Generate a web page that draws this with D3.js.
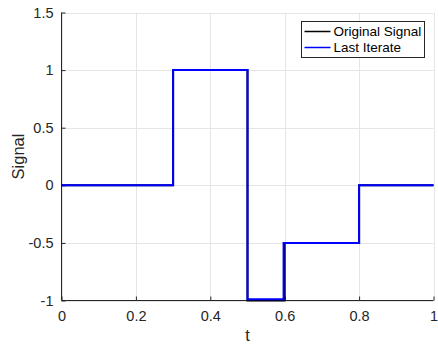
<!DOCTYPE html>
<html>
<head>
<meta charset="utf-8">
<script src="https://cdn.jsdelivr.net/npm/d3@7"></script>
<style>
  body { margin: 0; background: #fff; }
  svg { display: block; font-family: 'Liberation Sans', Arial, sans-serif; }
</style>
</head>
<body>
<div class="chart"></div>
<script>
// step signal: value holds from each breakpoint to the next
let origT = [0, 0.3, 0.5, 0.6, 0.8, 1];
let origV = [0, 1, -1, -0.5, 0, 0];
let iterT = [0, 0.3, 0.5, 0.597, 0.8, 1];
let iterV = [0, 1, -0.99, -0.5, 0, 0];
let xTicks = [0, 0.2, 0.4, 0.6, 0.8, 1];
let yTicks = [-1, -0.5, 0, 0.5, 1, 1.5];
let seriesNames = ['Original Signal', 'Last Iterate'];
let seriesColors = ['#000000', '#0000ff'];

let width = 438, height = 344;
let margin = {left: 61.5, right: 4.5, top: 12.5, bottom: 43.5};

let svg = d3.select('div.chart').append('svg')
  .attr('width', width)
  .attr('height', height);

let x = d3.scaleLinear().domain([0, 1]).range([margin.left, width - margin.right]);
let y = d3.scaleLinear().domain([-1, 1.5]).range([height - margin.bottom, margin.top]);

// grid
let grid = svg.append('g').attr('stroke', '#e5e5e5').attr('stroke-width', 1);
grid.selectAll('.gx').data(xTicks).enter().append('line')
  .attr('x1', d => Math.round(x(d)) + 0.5).attr('x2', d => Math.round(x(d)) + 0.5)
  .attr('y1', y(-1)).attr('y2', y(1.5));
grid.selectAll('.gy').data(yTicks).enter().append('line')
  .attr('y1', d => Math.round(y(d)) + 0.5).attr('y2', d => Math.round(y(d)) + 0.5)
  .attr('x1', x(0)).attr('x2', x(1));

// axes (matlab style: ticks inside, hyphen minus)
let fmt = d => String(d);
let xAxis = svg.append('g')
  .attr('transform', 'translate(0,' + y(-1) + ')')
  .call(d3.axisBottom(x).tickValues(xTicks).tickSize(-4).tickPadding(10).tickFormat(fmt));
let yAxis = svg.append('g')
  .attr('transform', 'translate(' + x(0) + ',0)')
  .call(d3.axisLeft(y).tickValues(yTicks).tickSize(-4).tickPadding(8).tickFormat(fmt));

[xAxis, yAxis].forEach(a => {
  a.selectAll('path, line').attr('stroke', '#262626');
  a.selectAll('text').attr('fill', '#262626').attr('font-size', '14.5px')
    .attr('font-family', "'Liberation Sans', Arial, sans-serif");
  a.select('.domain').attr('d', null);
});
xAxis.append('line').attr('x1', x(0)).attr('x2', x(1)).attr('stroke', '#262626');
yAxis.append('line').attr('y1', y(-1)).attr('y2', y(1.5)).attr('stroke', '#262626');

// labels
svg.append('text').text('t')
  .attr('x', x(0.5)).attr('y', 341)
  .attr('text-anchor', 'middle').attr('font-size', '16.5px').attr('fill', '#262626');
svg.append('text').text('Signal')
  .attr('transform', 'translate(23.5,' + y(0.25) + ') rotate(-90)')
  .attr('text-anchor', 'middle').attr('font-size', '16.5px').attr('fill', '#262626');

// signals
let stepLine = d3.line().x(d => x(d[0])).y(d => y(d[1])).curve(d3.curveStepAfter);
let series = [d3.zip(origT, origV), d3.zip(iterT, iterV)];
svg.selectAll('.sig').data(series).enter().append('path')
  .attr('d', stepLine)
  .attr('fill', 'none')
  .attr('stroke', (d, i) => seriesColors[i])
  .attr('stroke-width', 2);

// legend
let lg = svg.append('g').attr('transform', 'translate(301.5,21.5)');
lg.append('rect').attr('width', 123).attr('height', 36)
  .attr('fill', '#fff').attr('stroke', '#262626').attr('stroke-width', 1);
let items = lg.selectAll('.item').data(seriesNames).enter().append('g')
  .attr('transform', (d, i) => 'translate(0,' + (10 + i * 16) + ')');
items.append('line').attr('x1', 3).attr('x2', 29)
  .attr('stroke', (d, i) => seriesColors[i]).attr('stroke-width', 1.5);
items.append('text').text(d => d)
  .attr('x', 32).attr('dy', '0.35em')
  .attr('font-size', '13.5px').attr('fill', '#000');
</script>
</body>
</html>
